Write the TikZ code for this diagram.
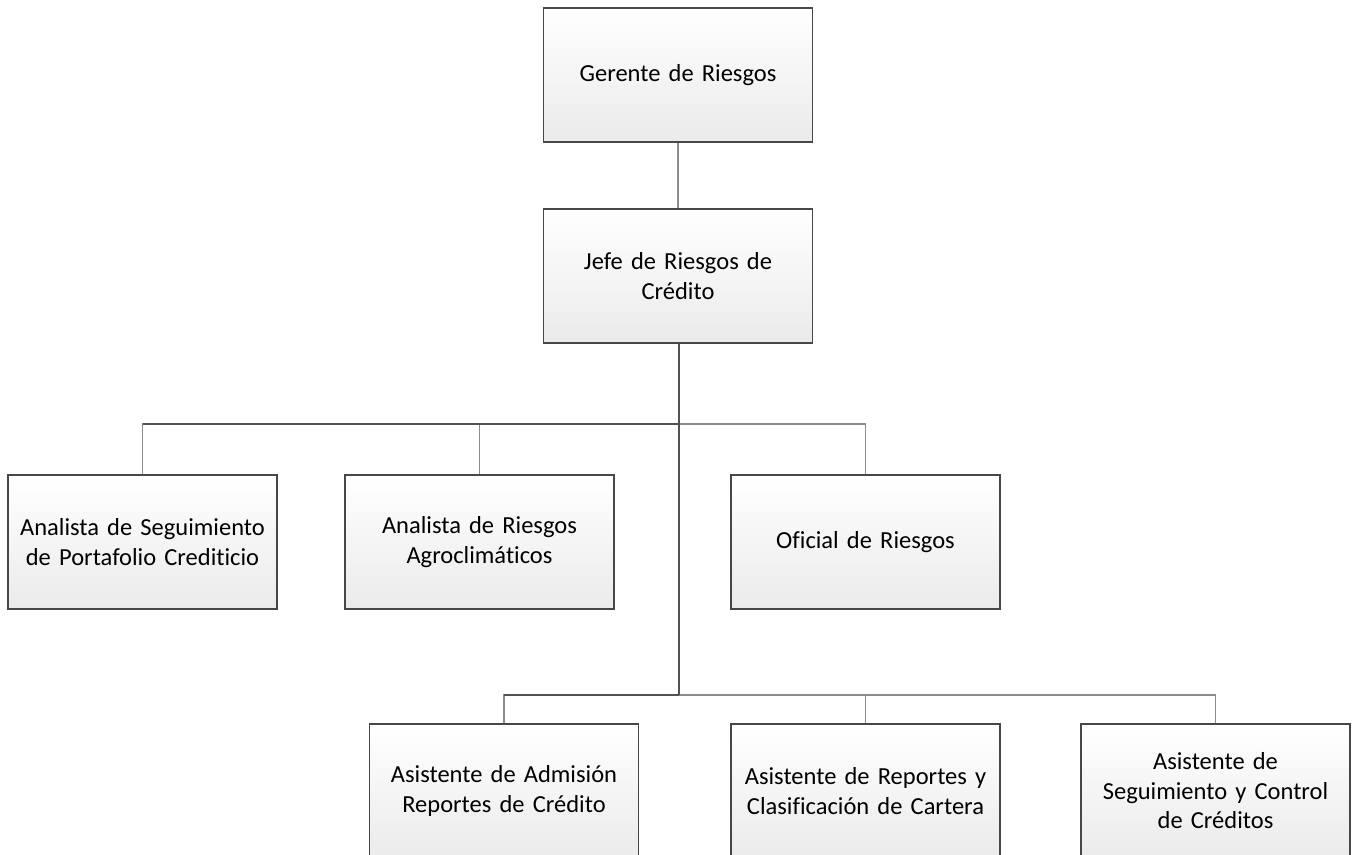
\documentclass[tikz,border=0pt]{standalone}
\usepackage{fontspec}
\setmainfont[Ligatures={NoCommon}]{Carlito}
\begin{document}
\begin{tikzpicture}[x=1pt,y=-1pt,
  box/.style={rectangle, draw=black!72, line width=1.2pt,
    top color=white, bottom color=black!8,
    minimum width=269pt, minimum height=134pt, inner sep=0pt,
    align=center, text width=262pt,
    font=\fontsize{24.5}{29.5}\selectfont},
  trunk/.style={draw=black!68, line width=1.3pt},
  branch/.style={draw=black!45, line width=1.3pt}]
\useasboundingbox (0,0) rectangle (1357,854);
\clip (0,0) rectangle (1357,854);

% levels
\node[box] (ger) at (678,75) {Gerente de Riesgos};
\node[box] (jefe) at (678,276) {Jefe de Riesgos de\\Crédito};

\node[box] (a1) at (142.5,542) {Analista de Seguimiento\\de Portafolio Crediticio};
\node[box] (a2) at (479.5,542) {Analista de Riesgos\\Agroclimáticos};
\node[box] (a3) at (865.5,542) {Oficial de Riesgos};

\node[box] (c1) at (504,791) {Asistente de Admisión\\Reportes de Crédito};
\node[box] (c2) at (865.5,791) {Asistente de Reportes y\\Clasificación de Cartera};
\node[box] (c3) at (1215.5,791) {Asistente de\\Seguimiento y Control\\de Créditos};

% junction points
\coordinate (j1) at (679,424);
\coordinate (j2) at (679,695);

% connectors
\draw[branch] (ger.south) -- (jefe.north);
\draw[branch] (a1.north) -- (a1.north |- j1) -- (a3.north |- j1) -- (a3.north);
\draw[branch] (a2.north) -- (a2.north |- j1);
\draw[branch] (c1.north) -- (c1.north |- j2) -- (c3.north |- j2) -- (c3.north);
\draw[branch] (c2.north) -- (c2.north |- j2);
\draw[trunk] (jefe.south -| j1) -- (j2);
\draw[trunk] (a1.north |- j1) -- (j1);
\draw[trunk] (c1.north |- j2) -- (j2);
\end{tikzpicture}
\end{document}
